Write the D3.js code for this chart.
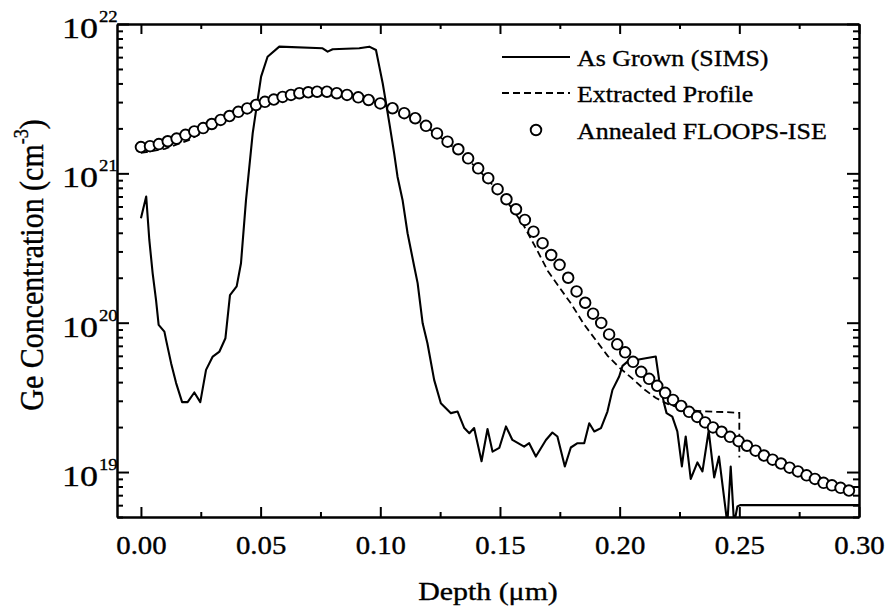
<!DOCTYPE html>
<html>
<head>
<meta charset="utf-8">
<script src="https://cdn.jsdelivr.net/npm/d3@7"></script>
<style>
body { margin: 0; background: #fff; }
svg text { font-family: "Liberation Serif", "Times New Roman", serif; fill: #000; stroke: #000; stroke-width: 0.35px; }
.axis path, .axis line { stroke: #000; stroke-width: 2; }
</style>
</head>
<body>
<svg width="888" height="611"></svg>
<script>
// tick labels
var xTicks = [0, 0.05, 0.10, 0.15, 0.20, 0.25, 0.30];
var xMinor = [0.025, 0.075, 0.125, 0.175, 0.225, 0.275];
var yTicks = [1e19, 1e20, 1e21, 1e22];
var yExp = ["19", "20", "21", "22"];
var seriesNames = ["As Grown (SIMS)", "Extracted Profile", "Annealed FLOOPS-ISE"];

// As grown SIMS profile
var simsDepth = [0.000,0.0022,0.0035,0.0049,0.0063,0.0074,0.0098,0.0105,0.0126,0.0147,
  0.0172,0.0195,0.0223,0.0248,0.0272,0.0300,0.0328,0.0353,0.0372,0.0400,
  0.0418,0.0439,0.0467,0.0502,0.0529,0.0578,0.0759,0.0780,0.0801,0.0912,
  0.0954,0.0982,0.0996,0.1010,0.1024,0.1038,0.1058,0.1072,0.1093,0.1114,
  0.1142,0.1156,0.1177,0.1197,0.1225,0.1253,0.1295,0.1323,0.1351,0.1372,
  0.1392,0.1423,0.1448,0.1469,0.1497,0.1525,0.1552,0.1601,0.1622,0.1650,
  0.1692,0.1719,0.1740,0.1771,0.1796,0.1824,0.1852,0.1873,0.1894,0.1922,
  0.1949,0.1970,0.1998,0.2012,0.2033,0.2109,0.2151,0.2165,0.2186,0.2196,
  0.2220,0.2241,0.2260,0.2276,0.2297,0.2325,0.2346,0.2372,0.2395,0.2415,
  0.2450,0.2464,0.2478,0.2492,0.2503,0.3000];
var simsConc = [5.0e20,7.0e20,3.58e20,2.14e20,1.42e20,9.67e19,8.71e19,7.67e19,5.36e19,3.94e19,
  2.94e19,2.94e19,3.41e19,2.94e19,4.83e19,5.93e19,6.41e19,7.87e19,1.53e20,1.75e20,
  2.50e20,6.64e20,1.86e21,4.44e21,6.04e21,7.05e21,6.88e21,6.53e21,6.78e21,6.88e21,
  7.05e21,6.70e21,5.18e21,4.01e21,2.95e21,2.16e21,1.36e21,9.5e20,6.64e20,3.97e20,
  2.37e20,1.84e20,9.9e19,7.29e19,4.14e19,2.89e19,2.48e19,2.54e19,1.97e19,1.82e19,
  1.97e19,1.18e19,1.94e19,1.37e19,1.45e19,2.02e19,1.64e19,1.48e19,1.56e19,1.27e19,
  1.64e19,1.84e19,1.73e19,1.09e19,1.46e19,1.56e19,1.56e19,2.12e19,1.87e19,1.97e19,
  2.54e19,3.55e19,4.36e19,5.14e19,5.49e19,5.78e19,5.93e19,4.14e19,2.86e19,2.48e19,
  2.35e19,1.87e19,1.09e19,1.73e19,9.0e18,1.16e19,1.01e19,1.89e19,9.2e18,1.27e19,
  4.5e18,1.09e19,4.5e18,5.88e18,6.0e18,6.0e18];

// extracted profile (dashed)
var extDepth = [0,0.01,0.02,0.03,0.04,0.05,0.06,0.07,0.08,0.09,0.10,0.11,0.12,0.13,0.14,0.15,
  0.155,0.16,0.165,0.17,0.175,0.18,0.185,0.19,0.195,0.20,0.205,0.21,0.215,0.22,
  0.225,0.23,0.235,0.24,0.245,0.25,0.25];
var extConc = [1.37e21,1.46e21,1.67e21,2.05e21,2.46e21,2.87e21,3.25e21,3.48e21,3.48e21,3.25e21,
  2.94e21,2.52e21,2.01e21,1.52e21,1.10e21,7.40e20,5.84e20,4.45e20,3.17e20,2.22e20,
  1.71e20,1.32e20,9.8e19,7.67e19,6.0e19,4.98e19,4.27e19,3.61e19,3.14e19,2.86e19,
  2.69e19,2.59e19,2.55e19,2.53e19,2.52e19,2.49e19,1.25e19];

// annealed FLOOPS-ISE (circles)
var floopsDepth = [0.0000,0.0038,0.0075,0.0112,0.0149,0.0186,0.0223,0.0260,0.0296,0.0333,
  0.0370,0.0407,0.0444,0.0481,0.0518,0.0555,0.0592,0.0627,0.0662,0.0699,
  0.0736,0.0777,0.0818,0.0861,0.0908,0.0951,0.1000,0.1051,0.1100,0.1146,
  0.1191,0.1237,0.1281,0.1326,0.1367,0.1409,0.1451,0.1490,0.1527,0.1567,
  0.1604,0.1640,0.1678,0.1714,0.1749,0.1785,0.1820,0.1856,0.1889,0.1923,
  0.1956,0.1990,0.2023,0.2056,0.2090,0.2123,0.2157,0.2190,0.2223,0.2257,
  0.2290,0.2324,0.2357,0.2390,0.2426,0.2461,0.2497,0.2532,0.2568,0.2603,
  0.2639,0.2674,0.2710,0.2745,0.2781,0.2816,0.2852,0.2887,0.2923,0.2958];
var floopsConc = [1.50e21,1.52e21,1.57e21,1.64e21,1.71e21,1.81e21,1.91e21,2.01e21,2.14e21,2.28e21,
  2.42e21,2.58e21,2.72e21,2.87e21,3.01e21,3.12e21,3.25e21,3.35e21,3.44e21,3.49e21,
  3.52e21,3.52e21,3.44e21,3.35e21,3.23e21,3.10e21,2.94e21,2.73e21,2.53e21,2.34e21,
  2.08e21,1.85e21,1.63e21,1.45e21,1.26e21,1.08e21,9.28e20,7.84e20,6.71e20,5.75e20,
  4.88e20,4.07e20,3.41e20,2.84e20,2.44e20,2.00e20,1.62e20,1.36e20,1.15e20,9.97e19,
  8.35e19,7.16e19,6.33e19,5.47e19,4.69e19,4.21e19,3.78e19,3.39e19,3.04e19,2.77e19,
  2.53e19,2.34e19,2.15e19,1.99e19,1.86e19,1.72e19,1.61e19,1.50e19,1.39e19,1.29e19,
  1.21e19,1.14e19,1.07e19,1.01e19,9.51e18,9.0e18,8.47e18,8.15e18,7.84e18,7.52e18];

var svg = d3.select("svg"),
    margin = {top: 24, right: 29, bottom: 94, left: 117},
    width = +svg.attr("width") - margin.left - margin.right,
    height = +svg.attr("height") - margin.top - margin.bottom;

var x = d3.scaleLinear().domain([-0.01, 0.30]).range([0, width]);
var y = d3.scaleLog().domain([5e18, 1e22]).range([height, 0]);

// minor ticks for the log axis: 2..9 x 10^n inside the domain
var yMinor = [];
[18, 19, 20, 21].forEach(function(e) {
  for (var m = 2; m <= 9; m++) {
    var v = m * Math.pow(10, e);
    if (v >= 5e18 && v <= 1e22) yMinor.push(v);
  }
});

var g = svg.append("g")
    .attr("transform", "translate(" + margin.left + "," + margin.top + ")");

svg.append("defs").append("clipPath").attr("id", "clip")
  .append("rect").attr("width", width).attr("height", height);

var plot = g.append("g").attr("clip-path", "url(#clip)");

var line = d3.line()
    .x(function(d) { return x(d[0]); })
    .y(function(d) { return y(d[1]); });

plot.append("path")
    .datum(d3.zip(simsDepth, simsConc))
    .attr("fill", "none")
    .attr("stroke", "#000")
    .attr("stroke-width", 2.1)
    .attr("stroke-linejoin", "round")
    .attr("d", line);

plot.append("path")
    .datum(d3.zip(extDepth, extConc))
    .attr("fill", "none")
    .attr("stroke", "#000")
    .attr("stroke-width", 1.8)
    .attr("stroke-dasharray", "7,4")
    .attr("d", line);

plot.selectAll(".dot")
    .data(d3.zip(floopsDepth, floopsConc))
  .enter().append("circle")
    .attr("class", "dot")
    .attr("cx", function(d) { return x(d[0]); })
    .attr("cy", function(d) { return y(d[1]); })
    .attr("r", 5.3)
    .attr("fill", "#fff")
    .attr("stroke", "#000")
    .attr("stroke-width", 1.9);

// axes, ticks pointing inward on all four sides
var sx = 1.15;

g.append("g")
    .attr("class", "axis")
    .attr("transform", "translate(0," + height + ")")
    .call(d3.axisBottom(x).tickValues(xTicks).tickSize(-10).tickSizeOuter(0).tickPadding(19)
      .tickFormat(d3.format(".2f")))
    .call(function(a) {
      a.selectAll("text").attr("font-size", 25).attr("transform", "scale(" + sx + ",1)");
    });

g.append("g")
    .attr("class", "axis")
    .attr("transform", "translate(0," + height + ")")
    .call(d3.axisBottom(x).tickValues(xMinor).tickSize(-5).tickSizeOuter(0).tickFormat(""));

g.append("g")
    .attr("class", "axis")
    .call(d3.axisTop(x).tickValues(xTicks).tickSize(-10).tickSizeOuter(0).tickFormat(""));

g.append("g")
    .attr("class", "axis")
    .call(d3.axisTop(x).tickValues(xMinor).tickSize(-5).tickSizeOuter(0).tickFormat(""));

g.append("g")
    .attr("class", "axis")
    .call(d3.axisLeft(y).tickValues(yTicks).tickSize(-12).tickSizeOuter(0).tickFormat(""));

g.append("g")
    .attr("class", "axis")
    .call(d3.axisLeft(y).tickValues(yMinor).tickSize(-6).tickSizeOuter(0).tickFormat(""));

g.append("g")
    .attr("class", "axis")
    .attr("transform", "translate(" + width + ",0)")
    .call(d3.axisRight(y).tickValues(yTicks).tickSize(-12).tickSizeOuter(0).tickFormat(""));

g.append("g")
    .attr("class", "axis")
    .attr("transform", "translate(" + width + ",0)")
    .call(d3.axisRight(y).tickValues(yMinor).tickSize(-6).tickSizeOuter(0).tickFormat(""));

// y tick labels: 10 with superscript exponent
var ylab = g.selectAll(".ylab")
    .data(yTicks)
  .enter().append("g")
    .attr("class", "ylab");

ylab.append("text")
    .attr("transform", function(d) { return "translate(-19," + (y(d) + 14) + ") scale(1.2,1)"; })
    .attr("text-anchor", "end")
    .attr("font-size", 30)
    .text("10");

ylab.append("text")
    .attr("transform", function(d) { return "translate(-18," + (y(d) - 2) + ") scale(1.1,1)"; })
    .attr("font-size", 17)
    .text(function(d, i) { return yExp[i]; });

// axis titles
svg.append("text")
    .attr("transform", "translate(" + (margin.left + width / 2) + ",600) scale(" + sx + ",1)")
    .attr("text-anchor", "middle")
    .attr("font-size", 26)
    .text("Depth (\u03bcm)");

var yt = svg.append("text")
    .attr("transform", "translate(43,265) rotate(-90) scale(1,1.12)")
    .attr("text-anchor", "middle")
    .attr("font-size", 30);
yt.append("tspan").text("Ge Concentration (cm");
yt.append("tspan").attr("font-size", 18).attr("dy", -13).text("-3");
yt.append("tspan").attr("dy", 13).text(")");

// legend
var legend = svg.append("g").attr("class", "legend");
var ly = [57, 93, 130];

legend.append("line")
    .attr("x1", 502).attr("x2", 570).attr("y1", ly[0]).attr("y2", ly[0])
    .attr("stroke", "#000").attr("stroke-width", 2.1);
legend.append("line")
    .attr("x1", 502).attr("x2", 570).attr("y1", ly[1]).attr("y2", ly[1])
    .attr("stroke", "#000").attr("stroke-width", 1.8).attr("stroke-dasharray", "7,4");
legend.append("circle")
    .attr("cx", 536).attr("cy", ly[2]).attr("r", 5.3)
    .attr("fill", "#fff").attr("stroke", "#000").attr("stroke-width", 1.9);

legend.selectAll(".ltext")
    .data(seriesNames)
  .enter().append("text")
    .attr("class", "ltext")
    .attr("transform", function(d, i) { return "translate(577," + (ly[i] + 9) + ") scale(1.08,1)"; })
    .attr("font-size", 24)
    .text(function(d) { return d; });
</script>
</body>
</html>
